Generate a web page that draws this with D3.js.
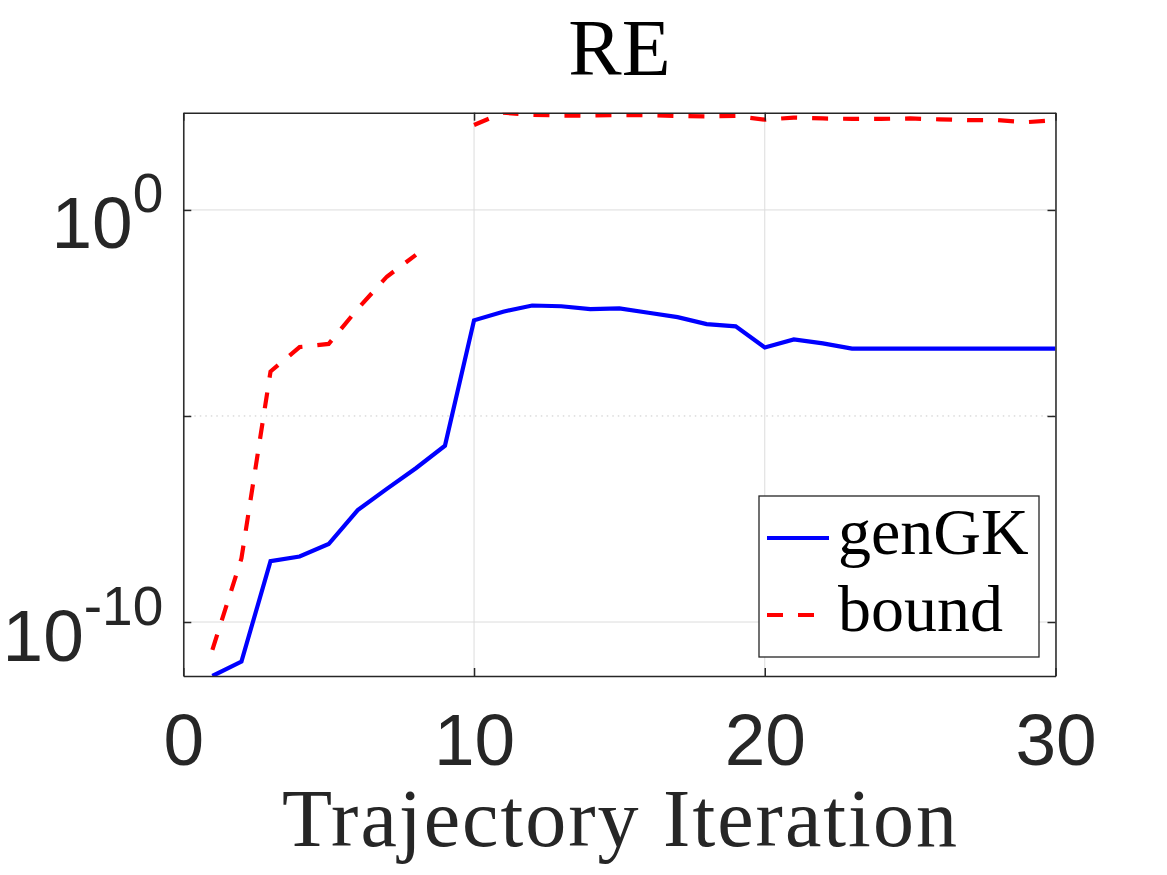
<!DOCTYPE html>
<html>
<head>
<meta charset="utf-8">
<script src="https://cdn.jsdelivr.net/npm/d3@7"></script>
<style>
  body { margin: 0; background: #fff; }
  svg { display: block; }
</style>
</head>
<body>
<div id="chart"></div>
<script>
// RE vs trajectory iteration, log scale
var iterations = d3.range(1, 31);
var genGK = [4.9e-12, 1.1e-11, 3.0e-9, 3.9e-9, 7.8e-9, 5.2e-8, 1.7e-7, 5.4e-7, 1.9e-6, 2.1e-3,
             3.4e-3, 4.8e-3, 4.6e-3, 3.9e-3, 4.1e-3, 3.2e-3, 2.5e-3, 1.7e-3, 1.5e-3, 4.6e-4,
             7.2e-4, 5.8e-4, 4.3e-4, 4.3e-4, 4.3e-4, 4.3e-4, 4.3e-4, 4.3e-4, 4.3e-4, 4.3e-4];
var bound = [2.1e-11, 3.5e-9, 1.2e-4, 4.7e-4, 5.6e-4, 4.0e-3, 2.4e-2, 8.1e-2, null, 115,
             229, 204, 195, 195, 200, 200, 191, 186, 191, 155,
             174, 166, 162, 162, 166, 158, 151, 151, 135, 151];
var seriesNames = ["genGK", "bound"];
var xTicks = [0, 10, 20, 30];
var yTicks = [1e-10, 1e-5, 1e0];
var yLabelled = [1e-10, 1e0];
var xDomain = [0, 30];
var yDomain = [Math.pow(10, -11.31), Math.pow(10, 2.36)];

var margin = { top: 112.7, right: 111.5, bottom: 199, left: 183.3 },
    width = 1167 - margin.left - margin.right,
    height = 875 - margin.top - margin.bottom;

var axisColor = "#262626";

var svg = d3.select("#chart").append("svg")
    .attr("width", 1167)
    .attr("height", 875);

var g = svg.append("g")
    .attr("transform", "translate(" + margin.left + "," + margin.top + ")");

var x = d3.scaleLinear().domain(xDomain).range([0, width]);
var y = d3.scaleLog().domain(yDomain).range([height, 0]);

// grid
g.append("g").selectAll("line")
    .data(xTicks)
    .enter().append("line")
    .attr("x1", function (d) { return x(d); })
    .attr("x2", function (d) { return x(d); })
    .attr("y1", 0).attr("y2", height)
    .attr("stroke", "#dcdcdc").attr("stroke-width", 1);

g.append("g").selectAll("line")
    .data(yTicks)
    .enter().append("line")
    .attr("x1", 0).attr("x2", width)
    .attr("y1", function (d) { return y(d); })
    .attr("y2", function (d) { return y(d); })
    .attr("stroke", function (d) { return yLabelled.indexOf(d) >= 0 ? "#dcdcdc" : "#c8c8c8"; })
    .attr("stroke-width", 1)
    .attr("stroke-dasharray", function (d) { return yLabelled.indexOf(d) >= 0 ? null : "1.5,4"; });

// lines
svg.append("clipPath").attr("id", "clip")
    .append("rect").attr("width", width).attr("height", height);

var line = d3.line()
    .defined(function (d) { return d.v != null; })
    .x(function (d) { return x(d.i); })
    .y(function (d) { return y(d.v); });

var series = [
    { name: seriesNames[0], values: genGK, color: "#0000ff", dash: null },
    { name: seriesNames[1], values: bound, color: "#ff0000", dash: "16,15" }
];

var plot = g.append("g").attr("clip-path", "url(#clip)");
plot.selectAll("path")
    .data(series)
    .enter().append("path")
    .attr("fill", "none")
    .attr("stroke", function (d) { return d.color; })
    .attr("stroke-width", 4.2)
    .attr("stroke-dasharray", function (d) { return d.dash; })
    .attr("d", function (s) {
        return line(iterations.map(function (it, k) { return { i: it, v: s.values[k] }; }));
    });

// axes
function styleAxis(sel) {
    sel.selectAll("path.domain").attr("stroke", axisColor).attr("stroke-width", 1.5);
    sel.selectAll(".tick line").attr("stroke", axisColor).attr("stroke-width", 1.5);
    sel.selectAll("text").attr("fill", axisColor)
        .style("font-family", "'Liberation Sans', Arial, sans-serif");
}

var xAxis = g.append("g")
    .attr("transform", "translate(0," + height + ")")
    .call(d3.axisBottom(x).tickValues(xTicks).tickSize(-8).tickSizeOuter(0).tickPadding(37));
xAxis.selectAll("text").style("font-size", "73px");
styleAxis(xAxis);

var xTop = g.append("g")
    .call(d3.axisTop(x).tickValues(xTicks).tickSize(-8).tickSizeOuter(0).tickFormat(""));
styleAxis(xTop);

var yAxis = g.append("g")
    .call(d3.axisLeft(y).tickValues(yTicks).tickSize(-8).tickSizeOuter(0).tickPadding(20)
        .tickFormat(function () { return ""; }));
styleAxis(yAxis);
yAxis.selectAll(".tick text").each(function (d) {
    var t = d3.select(this);
    if (yLabelled.indexOf(d) < 0) return;
    var e = Math.round(Math.log10(d));
    t.attr("dy", 38).style("font-size", "73px");
    t.append("tspan").text("10");
    t.append("tspan").attr("dy", -36).style("font-size", "55px").text(String(e));
});

var yRight = g.append("g")
    .attr("transform", "translate(" + width + ",0)")
    .call(d3.axisRight(y).tickValues(yTicks).tickSize(-8).tickSizeOuter(0).tickFormat(""));
styleAxis(yRight);

// title and x label
svg.append("text")
    .attr("x", margin.left + width / 2)
    .attr("y", 75)
    .attr("text-anchor", "middle")
    .style("font-family", "'Liberation Serif', 'Times New Roman', serif")
    .style("font-size", "80px")
    .attr("fill", "#000")
    .text("RE");

svg.append("text")
    .attr("x", margin.left + width / 2)
    .attr("y", 846)
    .attr("text-anchor", "middle")
    .attr("textLength", 675)
    .attr("lengthAdjust", "spacing")
    .style("font-family", "'Liberation Serif', 'Times New Roman', serif")
    .style("font-size", "82px")
    .attr("fill", axisColor)
    .text("Trajectory Iteration");

// legend
var legend = svg.append("g").attr("transform", "translate(759,496)");
legend.append("rect")
    .attr("width", 280).attr("height", 161)
    .attr("fill", "#fff")
    .attr("stroke", axisColor).attr("stroke-width", 1.3);

var item = legend.selectAll("g.item")
    .data(series)
    .enter().append("g")
    .attr("class", "item")
    .attr("transform", function (d, i) { return "translate(0," + (42 + i * 77) + ")"; });

item.append("line")
    .attr("x1", 8).attr("x2", 70)
    .attr("y1", 0).attr("y2", 0)
    .attr("stroke", function (d) { return d.color; })
    .attr("stroke-width", 4.2)
    .attr("stroke-dasharray", function (d) { return d.dash; });

item.append("text")
    .attr("x", 79)
    .attr("y", 16)
    .style("font-family", "'Liberation Serif', 'Times New Roman', serif")
    .style("font-size", "66px")
    .attr("fill", "#000")
    .text(function (d) { return d.name; });
</script>
</body>
</html>
